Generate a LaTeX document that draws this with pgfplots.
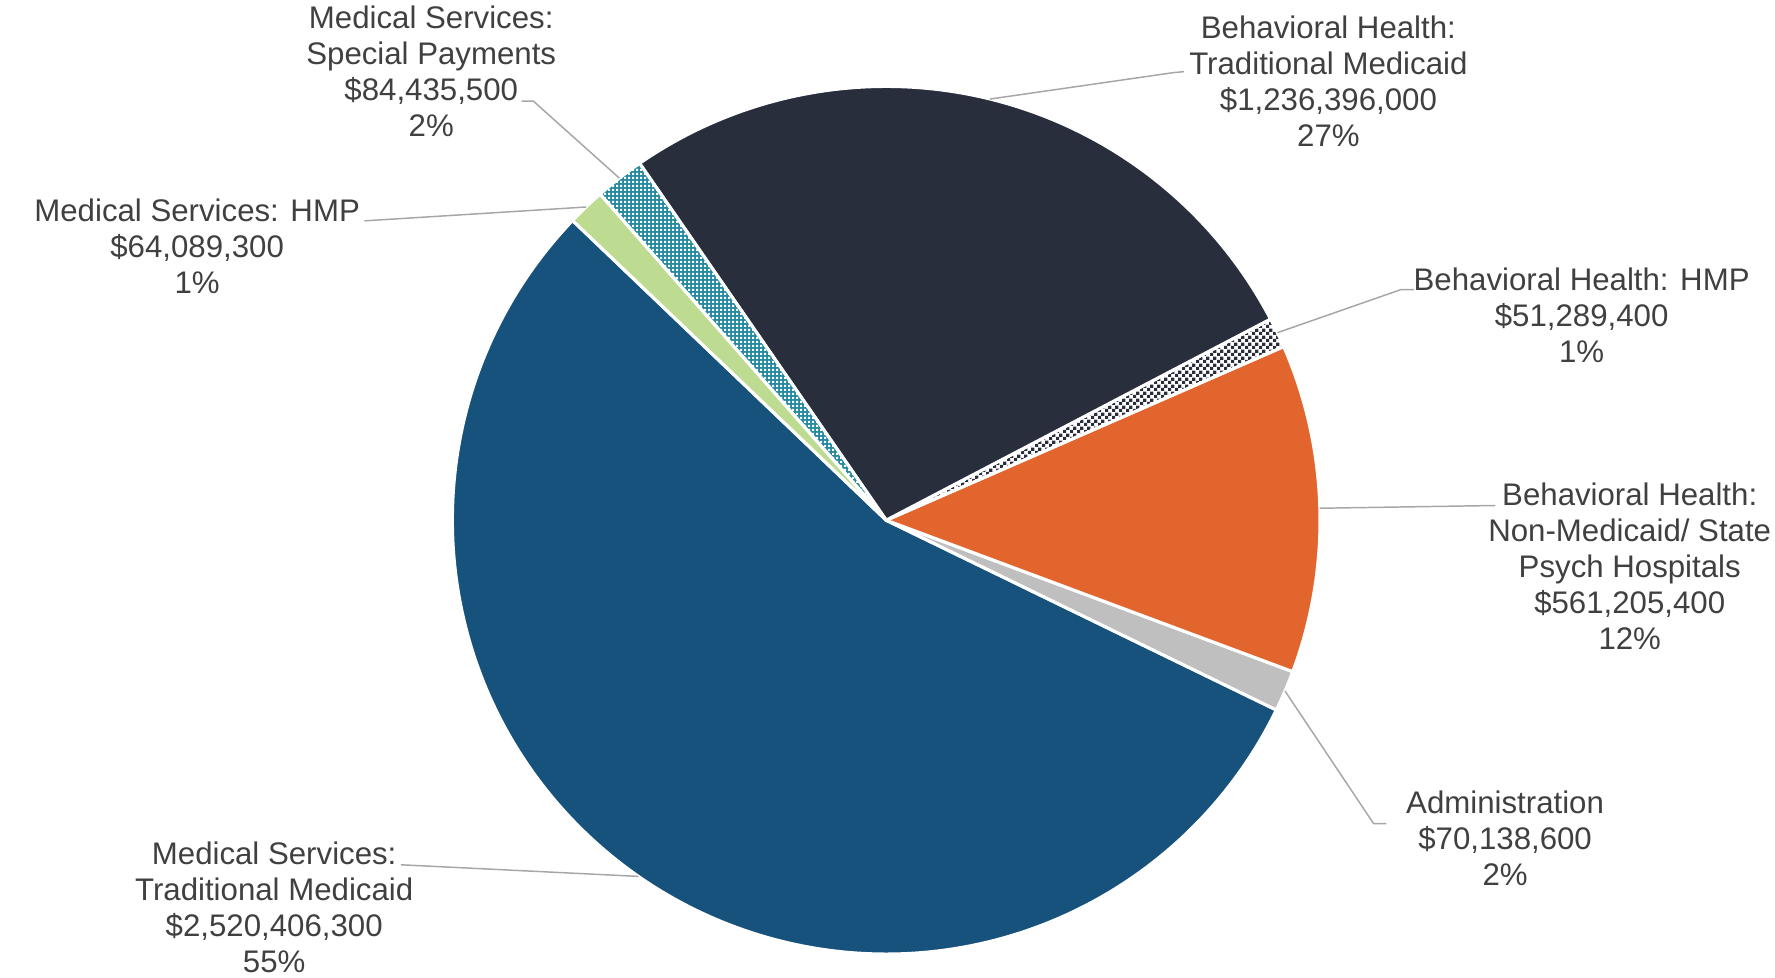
\documentclass[border=0pt]{standalone}
\usepackage{fontspec}
\setmainfont{Liberation Sans}
\usepackage{pgfplots}
\usepackage{pgfplotstable}
\pgfplotsset{compat=1.18}
\usetikzlibrary{patterns}

\definecolor{cBlue}{HTML}{17527C}
\definecolor{cGrey}{HTML}{BFBFBF}
\definecolor{cOrange}{HTML}{E2652E}
\definecolor{cNavy}{HTML}{282E3C}
\definecolor{cTeal}{HTML}{268AA0}
\definecolor{cGreen}{HTML}{BDDB91}
\definecolor{txt}{HTML}{404040}
\definecolor{lead}{HTML}{A6A6A6}

% fine fills used by the two small slices
\pgfdeclarepatternformonly{tinydots}{\pgfqpoint{0pt}{0pt}}{\pgfqpoint{2pt}{2pt}}{\pgfqpoint{2pt}{2pt}}{%
  \pgfpathrectangle{\pgfqpoint{0pt}{0pt}}{\pgfqpoint{1.1pt}{1.1pt}}\pgfusepath{fill}}
\pgfdeclarepatternformonly{tinychecker}{\pgfqpoint{0pt}{0pt}}{\pgfqpoint{3.4pt}{3.4pt}}{\pgfqpoint{3.4pt}{3.4pt}}{%
  \pgfpathrectangle{\pgfqpoint{0pt}{0pt}}{\pgfqpoint{1.7pt}{1.7pt}}%
  \pgfpathrectangle{\pgfqpoint{1.7pt}{1.7pt}}{\pgfqpoint{1.7pt}{1.7pt}}\pgfusepath{fill}}

% budget in $ million, in the order the slices run (counter-clockwise)
\pgfplotstableread[col sep=comma]{
item,value
MS Traditional Medicaid,2520.4063
Administration,70.1386
BH Non-Medicaid,561.2054
BH HMP,51.2894
BH Traditional Medicaid,1236.3960
MS Special Payments,84.4355
MS HMP,64.0893
}\piedata

\begin{document}
\pgfplotstablegetrowsof{\piedata}
\pgfmathtruncatemacro\nlast{\pgfplotsretval-1}
\def\total{0}
\pgfplotsforeachungrouped \i in {0,...,\nlast}{%
  \pgfplotstablegetelem{\i}{value}\of\piedata
  \pgfmathsetmacro\total{\total+\pgfplotsretval}}
\def\cx{869.5}\def\cy{530}\def\rad{221pt}
\def\startangle{136.3}
\begin{tikzpicture}[
  slice0/.style={fill=cBlue},
  slice1/.style={fill=cGrey},
  slice2/.style={fill=cOrange},
  slice3/.style={preaction={fill=white}, pattern=tinychecker, pattern color=cNavy},
  slice4/.style={fill=cNavy},
  slice5/.style={preaction={fill=cTeal}, pattern=tinydots, pattern color=white},
  slice6/.style={fill=cGreen},
  leader/.style={draw=lead, line width=0.75pt},
  lbl/.style={align=center, text=txt, inner sep=0pt,
    font=\fontsize{15.9}{18.35}\selectfont}]
\begin{axis}[x=0.5pt, y=0.5pt, xmin=0, xmax=1775, ymin=0, ymax=996,
  y dir=reverse, hide axis, clip=false]
\coordinate (bbA) at (axis cs:0,0);
\coordinate (bbB) at (axis cs:1775,996);
\let\cum\startangle
\pgfplotsforeachungrouped \i in {0,...,\nlast}{%
  \pgfplotstablegetelem{\i}{value}\of\piedata
  \pgfmathsetmacro\a{\cum}%
  \pgfmathsetmacro\b{\cum+\pgfplotsretval/\total*360}%
  \pgfmathsetmacro\m{(\a+\b)/2}%
  \edef\temp{\noexpand\path[slice\i, draw=white, line width=1.6pt, line join=round]
    (axis cs:\cx,\cy) -- ++(\a:\rad) arc[start angle=\a, end angle=\b, radius=\rad] -- cycle;
    \noexpand\path (axis cs:\cx,\cy) ++(\m:\rad) coordinate (m\i);}%
  \temp
  \let\cum\b}

\draw[leader] (axis cs:375,881) -- (m0);
\draw[leader] (axis cs:1379,839) -- (axis cs:1366,839) -- (m1);
\draw[leader] (axis cs:1490,515) -- (m2);
\draw[leader] (axis cs:1407,295) -- (axis cs:1394,295) -- (m3);
\draw[leader] (axis cs:1173,73) -- (axis cs:1162,74) -- (m4);
\draw[leader] (axis cs:498,103) -- (axis cs:510,103) -- (m5);
\draw[leader] (axis cs:338,225) -- (m6);

\node[lbl] at (axis cs:246,924) {Medical Services:\\Traditional Medicaid\\\$2,520,406,300\\55\%};
\node[lbl] at (axis cs:1500,854) {Administration\\\$70,138,600\\2\%};
\node[lbl] at (axis cs:1627,576.5) {Behavioral Health:\\Non-Medicaid/ State\\Psych Hospitals\\\$561,205,400\\12\%};
\node[lbl] at (axis cs:1578,321.5) {Behavioral Health: HMP\\\$51,289,400\\1\%};
\node[lbl] at (axis cs:1320,82.5) {Behavioral Health:\\Traditional Medicaid\\\$1,236,396,000\\27\%};
\node[lbl] at (axis cs:406,73) {Medical Services:\\Special Payments\\\$84,435,500\\2\%};
\node[lbl] at (axis cs:167.5,250.5) {Medical Services: HMP\\\$64,089,300\\1\%};
\end{axis}
\pgfresetboundingbox
\path[use as bounding box] (bbA) rectangle (bbB);
\end{tikzpicture}
\end{document}
